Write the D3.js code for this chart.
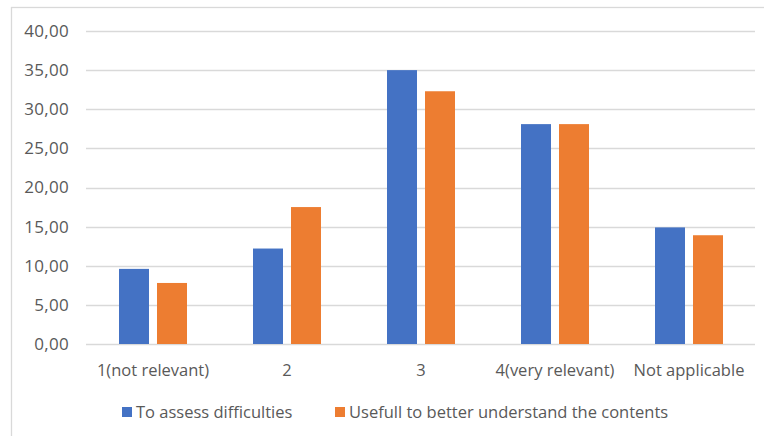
<!DOCTYPE html>
<html><head><meta charset="utf-8">
<script src="https://cdn.jsdelivr.net/npm/d3@7"></script>
<style>
html,body{margin:0;padding:0;background:#fff;}
svg{display:block;}
text{font-family:"Open Sans","Liberation Sans",sans-serif;fill:#595959;}
</style></head><body>
<script>
const categories = ["1(not relevant)", "2", "3", "4(very relevant)", "Not applicable"];
const seriesNames = ["To assess difficulties", "Usefull to better understand the contents"];
const assessValues = [9.6, 12.2, 35.0, 28.1, 14.9];
const usefulValues = [7.8, 17.5, 32.3, 28.1, 13.9];
const colors = ["#4472C4", "#ED7D31"];
const yTicks = [0, 5, 10, 15, 20, 25, 30, 35, 40];

const W = 764, H = 436;
const svg = d3.select("body").append("svg").attr("width", W).attr("height", H);

// chart border
svg.append("rect").attr("x", 11.5).attr("y", 7.5).attr("width", W + 10).attr("height", H + 10)
  .attr("fill", "none").attr("stroke", "#d9d9d9").attr("stroke-width", 1.3);

const x0 = d3.scaleBand().domain(categories).range([86, 756]).paddingInner(0).paddingOuter(0);
const y = d3.scaleLinear().domain([0, 40]).range([344, 31]);

// gridlines
svg.append("g").selectAll("line").data(yTicks).join("line")
  .attr("x1", 86).attr("x2", 755)
  .attr("y1", d => Math.round(y(d)) + 0.5).attr("y2", d => Math.round(y(d)) + 0.5)
  .attr("stroke", "#d9d9d9").attr("stroke-width", 1.5);

const fmt = d => d3.format(".2f")(d).replace(".", ",");
svg.append("g").selectAll("text").data(yTicks).join("text")
  .attr("x", 69).attr("y", d => y(d)).attr("dy", "0.35em")
  .attr("text-anchor", "end").attr("font-size", 17).attr("letter-spacing", 0.3).text(fmt);

const data = categories.map((c, i) => ({cat: c, vals: [assessValues[i], usefulValues[i]]}));
const barW = 30, gap = 8;
const g = svg.append("g");
data.forEach(d => {
  const cx = x0(d.cat) + x0.bandwidth() / 2;
  d.vals.forEach((v, j) => {
    const bx = j === 0 ? cx - gap / 2 - barW : cx + gap / 2;
    g.append("rect").attr("x", bx).attr("y", y(v)).attr("width", barW)
      .attr("height", y(0) - y(v)).attr("fill", colors[j]);
  });
});

// x labels
svg.append("g").selectAll("text").data(categories).join("text")
  .attr("x", d => x0(d) + x0.bandwidth() / 2).attr("y", 370).attr("dy", "0.35em")
  .attr("text-anchor", "middle").attr("font-size", 16.5).text(d => d);

// legend
const legX = [122, 335];
seriesNames.forEach((s, j) => {
  svg.append("rect").attr("x", legX[j]).attr("y", 407).attr("width", 10).attr("height", 10).attr("fill", colors[j]);
  svg.append("text").attr("x", legX[j] + 14).attr("y", 412).attr("dy", "0.35em")
    .attr("font-size", 16.5).text(s);
});
</script>
</body></html>
